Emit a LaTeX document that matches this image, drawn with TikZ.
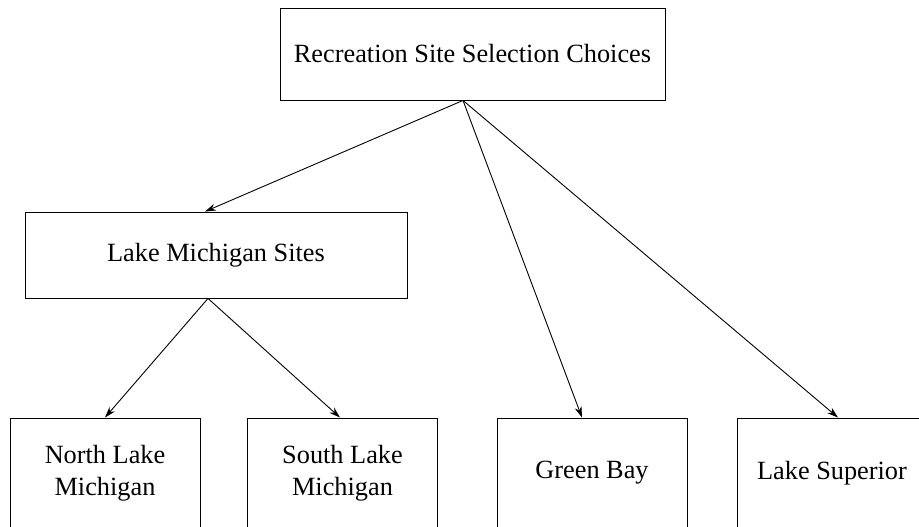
\documentclass[tikz,border=0pt]{standalone}
\usepackage{fontspec}
\setmainfont{Liberation Serif}
\usetikzlibrary{arrows.meta,calc}
\begin{document}
\begin{tikzpicture}[x=1pt,y=-1pt,
  box/.style={draw, line width=0.9pt, inner sep=0pt, align=center, font=\fontsize{26.3}{31.5}\selectfont},
  link/.style={draw, line width=0.9pt, -{Stealth[length=11pt,width=7pt]}}]
\useasboundingbox (0,0) rectangle (919,527);
\clip (0,0) rectangle (919,527);
\node[box, minimum width=385pt, minimum height=92pt] (top) at (472.5,54) {Recreation Site Selection Choices};
\node[box, minimum width=382pt, minimum height=86pt] (lm) at (216,255) {Lake Michigan Sites};
\node[box, minimum width=190pt, minimum height=110pt] (nlm) at (105,473) {North Lake\\Michigan};
\node[box, minimum width=190pt, minimum height=110pt] (slm) at (342.5,473) {South Lake\\Michigan};
\node[box, minimum width=190pt, minimum height=110pt] (gb) at (592,473) {Green Bay};
\node[box, minimum width=190pt, minimum height=110pt] (ls) at (832,473) {Lake Superior};
\coordinate (ts) at ($(top.south)+(-9.5,0)$);
\coordinate (lms) at ($(lm.south)+(-8,0)$);
\coordinate (lmn) at ($(lm.north)+(-11,0)$);
\coordinate (nlmn) at (nlm.north);
\coordinate (slmn) at ($(slm.north)+(-2.5,0)$);
\coordinate (gbn) at ($(gb.north)+(-10,0)$);
\coordinate (lsn) at ($(ls.north)+(6,0)$);
\draw[link] (ts) -- (lmn);
\draw[link] (ts) -- (gbn);
\draw[link] (ts) -- (lsn);
\draw[link] (lms) -- (nlmn);
\draw[link] (lms) -- (slmn);
\end{tikzpicture}
\end{document}
